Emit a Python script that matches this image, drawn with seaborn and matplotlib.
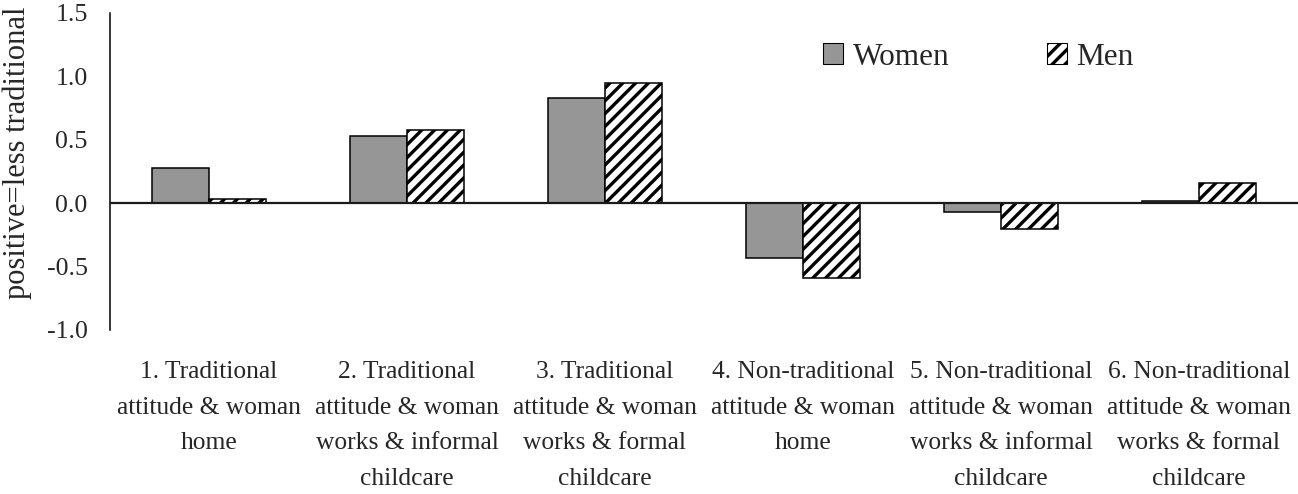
import pandas as pd
import matplotlib
matplotlib.use('Agg')
import matplotlib.pyplot as plt
from matplotlib.patches import Patch
import seaborn as sns

# values
categories = ['1. Traditional\nattitude & woman\nhome',
              '2. Traditional\nattitude & woman\nworks & informal\nchildcare',
              '3. Traditional\nattitude & woman\nworks & formal\nchildcare',
              '4. Non-traditional\nattitude & woman\nhome',
              '5. Non-traditional\nattitude & woman\nworks & informal\nchildcare',
              '6. Non-traditional\nattitude & woman\nworks & formal\nchildcare']
women = [0.28, 0.53, 0.83, -0.43, -0.07, 0.02]
men = [0.03, 0.58, 0.95, -0.59, -0.20, 0.16]
groups = ['Women', 'Men']
yticks = [-1.0, -0.5, 0.0, 0.5, 1.0, 1.5]

df = pd.DataFrame({
    'category': categories * 2,
    'value': women + men,
    'sex': ['Women'] * len(women) + ['Men'] * len(men),
})

# lower dpi so the '//' hatch gets a tighter spacing; sizes scaled by S
DPI = 77
S = 100 / DPI

sns.set_style('white')
plt.rcParams['font.family'] = ['Liberation Serif', 'DejaVu Serif']
plt.rcParams['hatch.linewidth'] = 2.4 * S
plt.rcParams['hatch.color'] = 'black'

fig = plt.figure(figsize=(1298 / DPI, 494 / DPI), dpi=DPI)
ax = fig.add_axes([0.0847, 0.332, 0.9153, 0.6417])

sns.barplot(data=df, x='category', y='value', hue='sex', hue_order=groups,
            palette={'Women': '#969696', 'Men': 'white'}, width=0.576,
            edgecolor='black', linewidth=1.1 * S, legend=False, ax=ax)

for bar in ax.containers[1]:
    bar.set_hatch('//')

ax.axhline(0, color='#1a1a1a', lw=1.6 * S, zorder=5)
ax.set_xlim(-0.5, 5.5)
ax.set_ylim(-1.0, 1.5)
ax.set_yticks(yticks)
ax.set_yticklabels(['%.1f' % t for t in yticks], fontsize=18.6 * S)
ax.tick_params(axis='x', length=0, labelsize=18.4 * S, pad=22.3 * S)
ax.tick_params(axis='y', length=0, pad=16 * S)
for lbl in ax.get_xticklabels():
    lbl.set_linespacing(1.8)
ax.set_xlabel('')
ax.set_ylabel('positive=less traditional', fontsize=22 * S)
ax.yaxis.set_label_coords(-0.066, 0.56)

for s in ['top', 'right', 'bottom']:
    ax.spines[s].set_visible(False)
ax.spines['left'].set_color('black')
ax.spines['left'].set_linewidth(1.1 * S)

handles = [Patch(facecolor='#969696', edgecolor='black', label='Women'),
           Patch(facecolor='white', edgecolor='black', hatch='//', label='Men')]
fig.legend(handles=handles, loc='center left', bbox_to_anchor=(0.634, 0.884),
           ncol=2, frameon=False, fontsize=22.5 * S, handlelength=0.64,
           handleheight=0.64, handletextpad=0.32, columnspacing=3.1,
           borderpad=0, borderaxespad=0)

fig.savefig('out.png', dpi=DPI)
